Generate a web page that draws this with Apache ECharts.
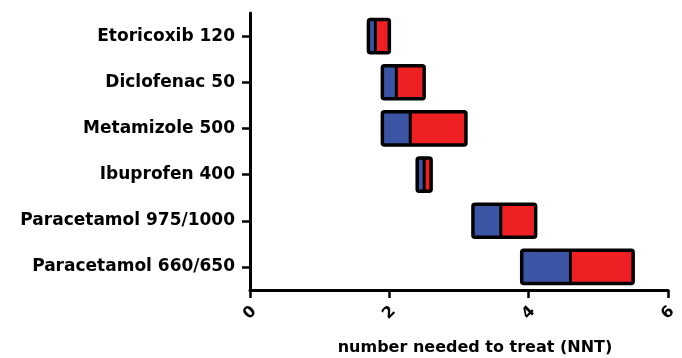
<!DOCTYPE html>
<html>
<head>
<meta charset="utf-8">
<script src="https://cdn.jsdelivr.net/npm/echarts@6/dist/echarts.min.js"></script>
<style>
  html, body { margin: 0; padding: 0; background: #fff; }
  #chart-panel { width: 682px; height: 358px; }
</style>
</head>
<body>
<div id="chart-panel"></div>
<script>
var chart = echarts.init(document.getElementById('chart-panel'));

// 药物 / NNT 区间（低, 点估计, 高）
var drugs = ['Etoricoxib 120', 'Diclofenac 50', 'Metamizole 500', 'Ibuprofen 400', 'Paracetamol 975/1000', 'Paracetamol 660/650'];
var nntLow = [1.7, 1.9, 1.9, 2.4, 3.2, 3.9];
var nntEst = [1.8, 2.1, 2.3, 2.5, 3.6, 4.6];
var nntHigh = [2.0, 2.5, 3.1, 2.6, 4.1, 5.5];
var xTicks = [0, 2, 4, 6];

var boxes = [];
for (var i = 0; i < drugs.length; i++) {
    boxes.push([i, nntLow[i], nntEst[i], nntHigh[i]]);
}

var font = 'DejaVu Sans';

function renderBox(params, api) {
    var cat = api.value(0);
    var pLow = api.coord([api.value(1), cat]);
    var pEst = api.coord([api.value(2), cat]);
    var pHigh = api.coord([api.value(3), cat]);
    var h = api.size([0, 1])[1] * 0.72;
    var top = pLow[1] - h / 2;
    return {
        type: 'group',
        children: [{
            type: 'rect',
            shape: { x: pLow[0], y: top, width: pEst[0] - pLow[0], height: h },
            style: { fill: '#3b54a4' }
        }, {
            type: 'rect',
            shape: { x: pEst[0], y: top, width: pHigh[0] - pEst[0], height: h },
            style: { fill: '#ee2024' }
        }, {
            type: 'line',
            shape: { x1: pEst[0], y1: top, x2: pEst[0], y2: top + h },
            style: { stroke: '#000', lineWidth: 3 }
        }, {
            type: 'rect',
            shape: { x: pLow[0], y: top, width: pHigh[0] - pLow[0], height: h, r: 2 },
            style: { fill: null, stroke: '#000', lineWidth: 3.5 }
        }]
    };
}

var option = {
    animation: false,
    grid: { left: 250, right: 14, top: 13, bottom: 68, containLabel: false, outerBoundsMode: 'none' },
    xAxis: {
        type: 'value',
        min: xTicks[0],
        max: xTicks[xTicks.length - 1],
        interval: 2,
        splitLine: { show: false },
        axisLine: { show: true, lineStyle: { color: '#000', width: 3 } },
        axisTick: { show: true, length: 8, lineStyle: { color: '#000', width: 2.5 } },
        axisLabel: {
            rotate: 45,
            margin: 23,
            align: 'center',
            verticalAlign: 'middle',
            color: '#000',
            fontFamily: font,
            fontWeight: 'bold',
            fontSize: 16
        },
        name: 'number needed to treat (NNT)',
        nameLocation: 'middle',
        nameGap: 50,
        nameTextStyle: {
            color: '#000',
            fontFamily: font,
            fontWeight: 'bold',
            fontSize: 16,
            padding: [0, 0, 0, 32]
        }
    },
    yAxis: {
        type: 'category',
        inverse: true,
        data: drugs,
        axisLine: { show: true, lineStyle: { color: '#000', width: 3 } },
        axisTick: { show: true, alignWithLabel: true, length: 8, lineStyle: { color: '#000', width: 2.5 } },
        axisLabel: {
            margin: 15,
            color: '#000',
            fontFamily: font,
            fontWeight: 'bold',
            fontSize: 17
        }
    },
    series: [{
        type: 'custom',
        renderItem: renderBox,
        encode: { x: [1, 2, 3], y: 0 },
        data: boxes
    }]
};
chart.setOption(option);
</script>
</body>
</html>
